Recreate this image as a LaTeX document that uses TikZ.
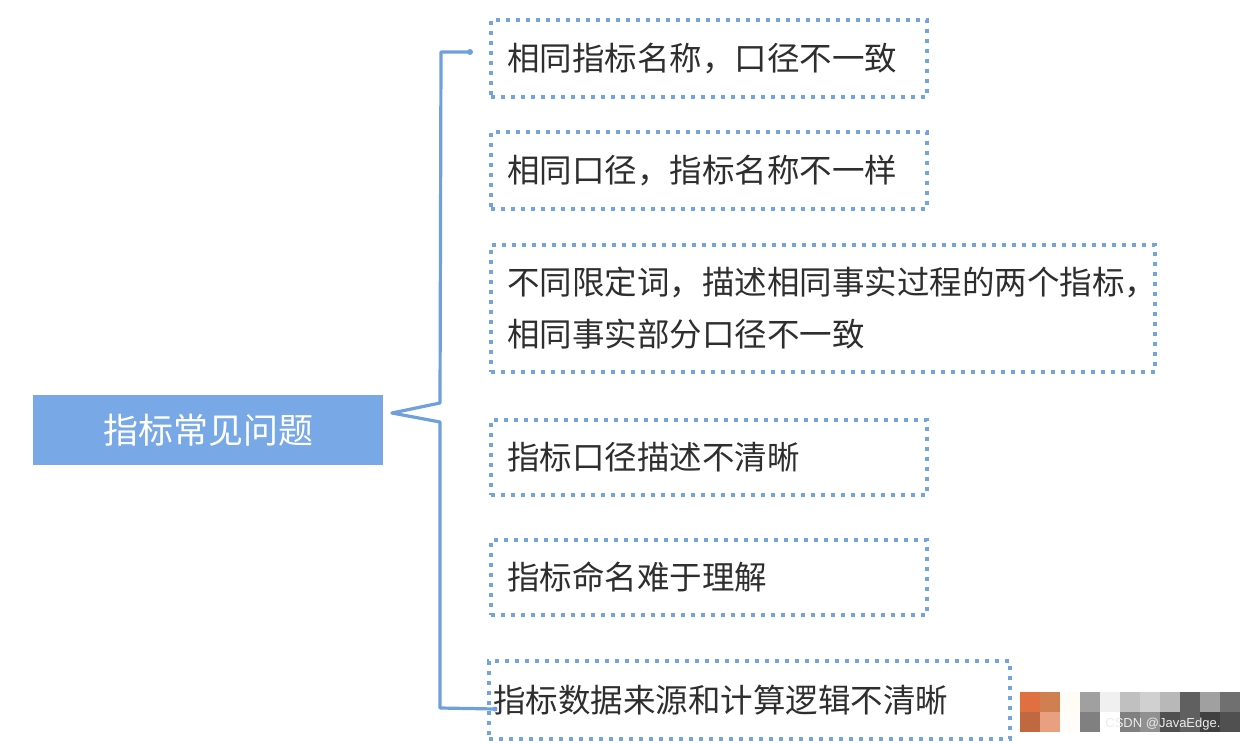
\documentclass[tikz,border=0pt]{standalone}
\usepackage{fontspec}
\setmainfont{Noto Sans CJK SC}
\newfontfamily\wmfont{Liberation Sans}
\usetikzlibrary{positioning}

\definecolor{rootblue}{HTML}{78A8E6}
\definecolor{braceblue}{HTML}{6FA0DC}
\definecolor{dotblue}{HTML}{72A4E0}
\definecolor{textgray}{HTML}{2E2E2E}

\tikzset{
  rootbox/.style={rectangle, fill=rootblue, anchor=north west, minimum width=350pt,
    minimum height=70pt, text=white, font=\fontsize{35}{40}\selectfont},
  itembox/.style={rectangle, draw=dotblue, line width=4pt, dash pattern=on 4pt off 6pt,
    anchor=north west, inner xsep=16pt, align=left, text=textgray,
    font=\fontsize{32.5}{52}\selectfont},
  brace/.style={draw=braceblue, line width=3.2pt, line cap=round, line join=round},
}

\begin{document}
\begin{tikzpicture}[x=1pt,y=-1pt]
\useasboundingbox (0,0) rectangle (1240,743);

% root
\node[rootbox] (root) at (33,395) {指标常见问题};

% problems
\node[itembox, minimum width=436pt, minimum height=77pt, text width=404pt] (b1) at (489,18) {相同指标名称，口径不一致};
\node[itembox, minimum width=436pt, minimum height=77pt, text width=404pt] (b2) at (489,130) {相同口径，指标名称不一样};
\node[itembox, minimum width=664pt, minimum height=127pt, text width=632pt] (b3) at (489,243) {不同限定词，描述相同事实过程的两个指标，\\相同事实部分口径不一致};
\node[itembox, minimum width=436pt, minimum height=75pt, text width=404pt] (b4) at (489,418) {指标口径描述不清晰};
\node[itembox, minimum width=436pt, minimum height=75pt, text width=404pt] (b5) at (489,538) {指标命名难于理解};
\node[itembox, minimum width=521pt, minimum height=78pt, text width=513pt, inner xsep=4pt] (b6) at (487,659) {指标数据来源和计算逻辑不清晰};

% bracket
\coordinate (tip) at (392,413);
\coordinate (up) at (440,403);
\coordinate (lo) at (440,422);
\coordinate (topc) at (441,52);
\coordinate (topend) at (470,52);
\coordinate (botc) at (440,708);
\coordinate (botend) at (495,709);
\draw[brace] (tip) -- (up) -- (topc) -- (topend);
\draw[brace] (tip) -- (lo) -- (botc) -- (botend);
\fill[braceblue] (topend) circle (3pt);
\fill[braceblue] (botend) circle (2.5pt);

% watermark
\foreach \c [count=\i from 0] in {E07040,D08050,FFFBF5,A0A0A0,F0F0F0,C0C0C0,D0D0D0,B8B8B8,606060,A0A0A0,707070}{
  \definecolor{tile}{HTML}{\c}
  \fill[tile] (1020+20*\i,692) rectangle ++(20,20);
}
\foreach \c [count=\i from 0] in {C06840,E8A080,FFFCFA,808080,FFFFFF,808080,909090,505050,606060,404040,505050}{
  \definecolor{tile}{HTML}{\c}
  \fill[tile] (1020+20*\i,712) rectangle ++(20,20);
}
\node[text=white!85!gray, font=\wmfont\fontsize{13}{15}\selectfont, anchor=east] (wm) at (1224,724) {CSDN @JavaEdge.};
\end{tikzpicture}
\end{document}
